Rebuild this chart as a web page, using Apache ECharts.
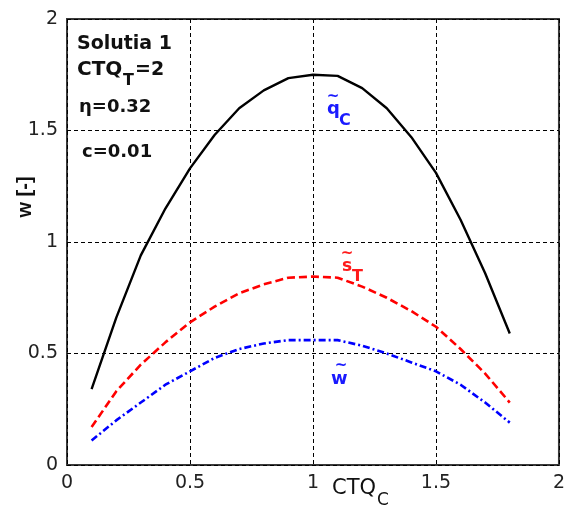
<!DOCTYPE html>
<html>
<head>
<meta charset="utf-8">
<script src="https://cdn.jsdelivr.net/npm/echarts@6/dist/echarts.min.js"></script>
<style>
html,body{margin:0;padding:0;background:#fff;}
#chart{width:568px;height:511px;}
</style>
</head>
<body>
<div id="chart"></div>
<script>
// Data
var ctqC = [0.1,0.2,0.3,0.4,0.5,0.6,0.7,0.8,0.9,1.0,1.1,1.2,1.3,1.4,1.5,1.6,1.7,1.8];
var qC   = [0.34,0.66,0.94,1.15,1.33,1.48,1.60,1.68,1.735,1.75,1.745,1.69,1.60,1.47,1.31,1.10,0.86,0.59];
var sT   = [0.17,0.33,0.45,0.55,0.64,0.71,0.77,0.81,0.84,0.845,0.84,0.80,0.75,0.69,0.62,0.52,0.41,0.28];
var wv   = [0.11,0.20,0.28,0.36,0.42,0.48,0.52,0.545,0.56,0.56,0.56,0.535,0.50,0.46,0.42,0.36,0.28,0.19];
var xTicks = ['0','0.5','1','1.5','2'];
var yTicks = ['0','0.5','1','1.5','2'];

function pairs(xs, ys){ return xs.map(function(x,i){ return [x, ys[i]]; }); }

var FONT = '"DejaVu Sans", sans-serif';
var chart = echarts.init(document.getElementById('chart'), null, {renderer:'canvas'});

function tickFmt(list){
  return function(v){ var i = Math.round(v/0.5); return list[i] !== undefined ? list[i] : ''; };
}

var option = {
  backgroundColor:'#fff',
  animation:false,
  grid:{left:67,right:5,top:19,bottom:46,show:true,borderColor:'#3a3a3a',borderWidth:2,backgroundColor:'transparent'},
  xAxis:{
    type:'value',min:0,max:2,interval:0.5,
    axisLine:{show:false},axisTick:{show:false},
    axisLabel:{formatter:tickFmt(xTicks),fontFamily:FONT,fontSize:19,color:'#222',margin:9},
    splitLine:{show:true,lineStyle:{color:'#000',width:1,type:[4,3]}}
  },
  yAxis:{
    type:'value',min:0,max:2,interval:0.5,
    axisLine:{show:false},axisTick:{show:false},
    axisLabel:{formatter:tickFmt(yTicks),fontFamily:FONT,fontSize:19,color:'#222',margin:9},
    splitLine:{show:true,lineStyle:{color:'#000',width:1,type:[4,3]}}
  },
  series:[
    {type:'line',data:pairs(ctqC,qC),showSymbol:false,symbol:'none',lineStyle:{color:'#000',width:2.4,type:'solid'},z:5},
    {type:'line',data:pairs(ctqC,sT),showSymbol:false,symbol:'none',lineStyle:{color:'#ff0000',width:2.6,type:[8,4]},z:4},
    {type:'line',data:pairs(ctqC,wv),showSymbol:false,symbol:'none',lineStyle:{color:'#0000ff',width:2.6,type:[7,3,2,3]},z:3}
  ],
  graphic:[
    // y axis title
    {type:'text',x:25,y:197,rotation:Math.PI/2,style:{text:'w [-]',font:'bold 20px "Liberation Sans", Arial, sans-serif',fill:'#111',align:'center',verticalAlign:'middle'}},
    // parameter box
    {type:'text',x:77,y:44,style:{text:'Solutia 1',font:'bold 19px '+FONT,fill:'#111',align:'left',verticalAlign:'middle'}},
    {type:'text',x:77,y:70,style:{text:'CTQ',font:'bold 20px '+FONT,fill:'#111',align:'left',verticalAlign:'middle'}},
    {type:'text',x:123,y:81,style:{text:'T',font:'bold 16px '+FONT,fill:'#111',align:'left',verticalAlign:'middle'}},
    {type:'text',x:135,y:70,style:{text:'=2',font:'bold 19px '+FONT,fill:'#111',align:'left',verticalAlign:'middle'}},
    {type:'text',x:79,y:107,style:{text:'η=0.32',font:'bold 18px '+FONT,fill:'#111',align:'left',verticalAlign:'middle'}},
    {type:'text',x:82,y:152,style:{text:'c=0.01',font:'bold 18px '+FONT,fill:'#111',align:'left',verticalAlign:'middle'}},
    // x axis title
    {type:'text',x:332,y:489,style:{text:'CTQ',font:'21px '+FONT,fill:'#111',align:'left',verticalAlign:'middle'}},
    {type:'text',x:377,y:501,style:{text:'C',font:'17px '+FONT,fill:'#111',align:'left',verticalAlign:'middle'}},
    // curve labels
    {type:'text',x:333,y:97,style:{text:'~',font:'bold 15px '+FONT,fill:'#1a1aff',align:'center',verticalAlign:'middle'}},
    {type:'text',x:327,y:109,style:{text:'q',font:'bold 18px '+FONT,fill:'#1a1aff',align:'left',verticalAlign:'middle'}},
    {type:'text',x:339,y:121,style:{text:'C',font:'bold 16px '+FONT,fill:'#1a1aff',align:'left',verticalAlign:'middle'}},
    {type:'text',x:347,y:254,style:{text:'~',font:'bold 15px '+FONT,fill:'#ff1a1a',align:'center',verticalAlign:'middle'}},
    {type:'text',x:342,y:267,style:{text:'s',font:'bold 17px '+FONT,fill:'#ff1a1a',align:'left',verticalAlign:'middle'}},
    {type:'text',x:352,y:277,style:{text:'T',font:'bold 16px '+FONT,fill:'#ff1a1a',align:'left',verticalAlign:'middle'}},
    {type:'text',x:341,y:366,style:{text:'~',font:'bold 15px '+FONT,fill:'#1a1aff',align:'center',verticalAlign:'middle'}},
    {type:'text',x:331,y:379,style:{text:'w',font:'bold 18px '+FONT,fill:'#1a1aff',align:'left',verticalAlign:'middle'}}
  ]
};
chart.setOption(option);
</script>
</body>
</html>
